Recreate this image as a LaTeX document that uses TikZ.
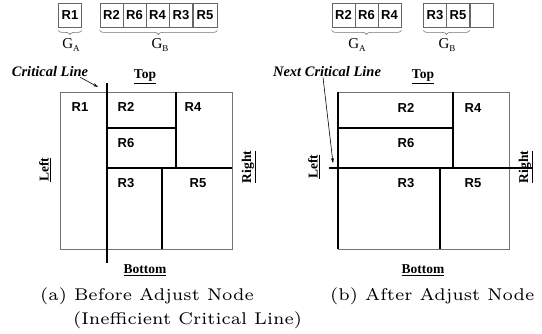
\documentclass[tikz,border=0pt]{standalone}
\usepackage{fontspec}
\newfontfamily\sansf{Liberation Sans}
\newfontfamily\timesf{Liberation Serif}
\newfontfamily\capf{lmroman6-regular}[Extension=.otf]
\usetikzlibrary{arrows.meta,decorations.pathreplacing}
\tikzset{
  reg/.style={font=\sansf\bfseries\fontsize{13}{13}\selectfont, inner sep=0pt},
  cell/.style={draw=black!60, line width=0.8pt, minimum width=23pt, minimum height=24pt,
    inner sep=0pt, font=\sansf\bfseries\fontsize{13}{13}\selectfont},
  gbrace/.style={draw=black!55, line width=0.6pt, decorate,
    decoration={brace,mirror,amplitude=4pt}},
  glabel/.style={font=\timesf\fontsize{15}{15}\selectfont, inner sep=0pt},
  side/.style={font=\timesf\bfseries\fontsize{13.5}{14}\selectfont, inner sep=0pt},
  note/.style={font=\timesf\bfseries\itshape\fontsize{14.5}{15}\selectfont, inner sep=0pt},
  frame/.style={draw=black!55, line width=0.8pt},
  divider/.style={line width=1.4pt},
  critline/.style={line width=2.8pt},
  pointer/.style={line width=0.6pt, -{Stealth[length=5pt,width=3pt]}},
  captext/.style={font=\capf\fontsize{17}{20}\selectfont, inner sep=0pt, anchor=base west},
}
\newcommand{\grp}[1]{G\raisebox{-0.35ex}{\fontsize{9}{9}\selectfont #1}}
\begin{document}
\begin{tikzpicture}[x=1pt,y=-1pt]
\useasboundingbox (0,0) rectangle (542,333);

% ---------- (a) group lists ----------
\node[cell] (la1) at (70,15) {R1};
\node[cell] (lb1) at (111.5,15) {R2};
\node[cell] (lb2) at (134.5,15) {R6};
\node[cell] (lb3) at (157.5,15) {R4};
\node[cell] (lb4) at (181,15) {R3};
\node[cell, minimum width=24pt] (lb5) at (205,15) {R5};
\draw[gbrace] ([yshift=-3pt]la1.south west) -- ([yshift=-3pt]la1.south east);
\draw[gbrace] ([yshift=-3pt]lb1.south west) -- ([yshift=-3pt]lb5.south east);
\node[glabel] (lga) at (71,45) {\grp{A}};
\node[glabel] (lgb) at (160,45) {\grp{B}};

% ---------- (a) layout ----------
\draw[frame] (60,92) rectangle (232,249);
\draw[divider] (107,128) -- (176,128);
\draw[divider] (176,92) -- (176,168);
\draw[divider] (107,168) -- (232,168);
\draw[divider] (162,168) -- (162,249);
\draw[critline] (107,83) -- (107,263);
\coordinate (lcrit) at (98,87);

\node[reg] (r1) at (80,107) {R1};
\node[reg] (r2) at (126,107) {R2};
\node[reg] (r4) at (193,107) {R4};
\node[reg] (r6) at (126,143) {R6};
\node[reg] (r3) at (126,183) {R3};
\node[reg] (r5) at (198,183) {R5};

\node[side] (ltop) at (145,77) {\underline{Top}};
\node[side] (lbot) at (145,270) {\underline{Bottom}};
\node[side, rotate=90] (lleft) at (45,170) {\underline{Left}};
\node[side, rotate=90] (lright) at (249,167) {\underline{Right}};

\node[note] (lnote) at (50,72) {Critical Line};
\draw[pointer] ([xshift=-8pt]lnote.south east) -- (lcrit);

% ---------- (b) group lists ----------
\node[cell] (ra1) at (343.5,15) {R2};
\node[cell] (ra2) at (366.5,15) {R6};
\node[cell] (ra3) at (389.5,15) {R4};
\node[cell] (rb1) at (435,15) {R3};
\node[cell] (rb2) at (458,15) {R5};
\node[cell] (rb3) at (481.5,15) {};
\draw[gbrace] ([yshift=-3pt]ra1.south west) -- ([yshift=-3pt]ra3.south east);
\draw[gbrace] ([yshift=-3pt]rb1.south west) -- ([yshift=-3pt]rb2.south east);
\node[glabel] (rga) at (357,45) {\grp{A}};
\node[glabel] (rgb) at (447,45) {\grp{B}};

% ---------- (b) layout ----------
\draw[frame] (338,92) rectangle (509,249);
\draw[divider] (338,128) -- (453,128);
\draw[divider] (453,92) -- (453,168);
\draw[divider] (440,168) -- (440,249);
\draw[critline] (338,92) -- (338,249);
\draw[critline] (329,168) -- (533,168);
\coordinate (rcrit) at (333,163);

\node[reg] (s2) at (406,108) {R2};
\node[reg] (s4) at (473,108) {R4};
\node[reg] (s6) at (406,143) {R6};
\node[reg] (s3) at (406,183) {R3};
\node[reg] (s5) at (473,183) {R5};

\node[side] (rtop) at (423,77) {\underline{Top}};
\node[side] (rbot) at (423,270) {\underline{Bottom}};
\node[side, rotate=90] (rleft) at (314,167) {\underline{Left}};
\node[side, rotate=90] (rright) at (526,167) {\underline{Right}};

\node[note] (rnote) at (327,72) {Next Critical Line};
\draw[pointer] ([xshift=-4pt]rnote.south) -- (rcrit);

% ---------- captions ----------
\node[captext] (capa) at (40,300) {(a) Before Adjust Node};
\node[captext] (capa2) at (73,324) {(Inefficient Critical Line)};
\node[captext] (capb) at (330,300) {(b) After Adjust Node};
\end{tikzpicture}
\end{document}
